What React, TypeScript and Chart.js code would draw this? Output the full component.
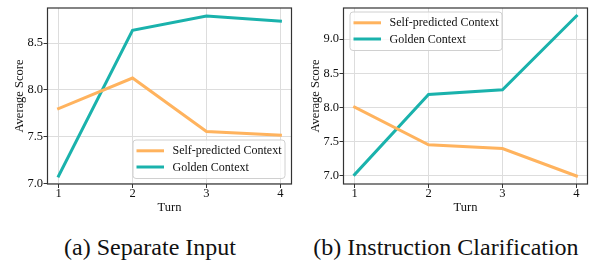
import React, { useEffect, useRef } from 'react';
import { Chart, registerables } from 'chart.js';

Chart.register(...registerables);

const TURNS = [1, 2, 3, 4];
const X_TICKS = [1, 2, 3, 4];
const X_RANGE = [0.85, 4.15];
const SERIES_NAMES = ['Self-predicted Context', 'Golden Context'];
const SERIES_COLORS = ['#ffb35e', '#1ab2ac'];

const A_SELF = [7.8, 8.127, 7.555, 7.517];
const A_GOLDEN = [7.08, 8.637, 8.789, 8.734];
const A_Y_TICKS = [7.0, 7.5, 8.0, 8.5];
const A_Y_RANGE = [6.9945, 8.875];

const B_SELF = [8.005, 7.455, 7.4, 7.0];
const B_GOLDEN = [7.02, 8.19, 8.26, 9.336];
const B_Y_TICKS = [7.0, 7.5, 8.0, 8.5, 9.0];
const B_Y_RANGE = [6.883, 9.453];

const CAPTIONS = ['(a) Separate Input', '(b) Instruction Clarification'];
const X_TITLE = 'Turn';
const Y_TITLE = 'Average Score';

const FONT = '"Liberation Serif", "Times New Roman", Times, serif';
const W = 296;
const H = 216;

const framePlugin = {
  id: 'frameLegend',
  afterDatasetsDraw(chart: any, _args: any, opts: any) {
    const { ctx, chartArea: a } = chart;
    ctx.save();
    ctx.strokeStyle = '#333';
    ctx.lineWidth = 1.2;
    ctx.strokeRect(a.left, a.top, a.right - a.left, a.bottom - a.top);
    const bw = 152;
    const bh = 38.5;
    let bx: number, by: number;
    if (opts.corner === 'br') {
      bx = a.right - 6.5 - bw;
      by = a.bottom - 5.5 - bh;
    } else {
      bx = a.left + 6.5;
      by = a.top + 4;
    }
    const r = 3;
    ctx.beginPath();
    ctx.moveTo(bx + r, by);
    ctx.lineTo(bx + bw - r, by);
    ctx.quadraticCurveTo(bx + bw, by, bx + bw, by + r);
    ctx.lineTo(bx + bw, by + bh - r);
    ctx.quadraticCurveTo(bx + bw, by + bh, bx + bw - r, by + bh);
    ctx.lineTo(bx + r, by + bh);
    ctx.quadraticCurveTo(bx, by + bh, bx, by + bh - r);
    ctx.lineTo(bx, by + r);
    ctx.quadraticCurveTo(bx, by, bx + r, by);
    ctx.closePath();
    ctx.fillStyle = 'rgba(255,255,255,0.8)';
    ctx.fill();
    ctx.strokeStyle = '#d0d0d0';
    ctx.lineWidth = 1;
    ctx.stroke();
    const rows = [10.8, 27];
    chart.data.datasets.forEach((ds: any, i: number) => {
      const yy = by + rows[i];
      ctx.strokeStyle = ds.borderColor;
      ctx.lineWidth = 3;
      ctx.lineCap = 'butt';
      ctx.beginPath();
      ctx.moveTo(bx + 3.5, yy);
      ctx.lineTo(bx + 31, yy);
      ctx.stroke();
      ctx.fillStyle = '#111';
      ctx.font = `12px ${FONT}`;
      ctx.textBaseline = 'middle';
      ctx.textAlign = 'left';
      ctx.fillText(ds.label, bx + 39.5, yy + 0.5);
    });
    ctx.restore();
  },
};

function Panel(props: {
  self: number[];
  golden: number[];
  yTicks: number[];
  yRange: number[];
  corner: string;
  left: number;
}) {
  const ref = useRef<HTMLCanvasElement>(null);
  useEffect(() => {
    if (!ref.current) return;
    const mk = (vals: number[]) => TURNS.map((t, i) => ({ x: t, y: vals[i] }));
    const chart = new Chart(ref.current, {
      type: 'line',
      data: {
        datasets: [
          {
            label: SERIES_NAMES[0],
            data: mk(props.self),
            borderColor: SERIES_COLORS[0],
            backgroundColor: SERIES_COLORS[0],
            borderWidth: 3,
            pointRadius: 0,
            tension: 0,
            borderCapStyle: 'square',
          },
          {
            label: SERIES_NAMES[1],
            data: mk(props.golden),
            borderColor: SERIES_COLORS[1],
            backgroundColor: SERIES_COLORS[1],
            borderWidth: 3,
            pointRadius: 0,
            tension: 0,
            borderCapStyle: 'square',
          },
        ],
      },
      options: {
        animation: false,
        responsive: false,
        maintainAspectRatio: false,
        events: [],
        layout: { padding: { left: 0, right: 4.5, top: 3, bottom: 0 } },
        plugins: {
          legend: { display: false },
          tooltip: { enabled: false },
          frameLegend: { corner: props.corner },
        } as any,
        scales: {
          x: {
            type: 'linear',
            min: X_RANGE[0],
            max: X_RANGE[1],
            afterBuildTicks: (s: any) => {
              s.ticks = X_TICKS.map((v) => ({ value: v }));
            },
            afterFit: (s: any) => {
              s.height = 32;
            },
            ticks: {
              callback: (v: any) => String(v),
              font: { family: FONT, size: 12.5 },
              color: '#111',
              padding: -2,
              maxRotation: 0,
              autoSkip: false,
            },
            grid: { color: '#dddddd', lineWidth: 1, tickLength: 4, tickColor: '#333', drawTicks: true },
            border: { display: false },
            title: {
              display: true,
              text: X_TITLE,
              font: { family: FONT, size: 12.5 },
              color: '#111',
              padding: { top: 0, bottom: 1 },
            },
          },
          y: {
            type: 'linear',
            min: props.yRange[0],
            max: props.yRange[1],
            afterBuildTicks: (s: any) => {
              s.ticks = props.yTicks.map((v) => ({ value: v }));
            },
            afterFit: (s: any) => {
              s.width = 47.5;
            },
            ticks: {
              callback: (v: any) => Number(v).toFixed(1),
              font: { family: FONT, size: 12.5 },
              color: '#111',
              padding: 0.5,
              autoSkip: false,
            },
            grid: { color: '#dddddd', lineWidth: 1, tickLength: 4, tickColor: '#333', drawTicks: true },
            border: { display: false },
            title: {
              display: true,
              text: Y_TITLE,
              font: { family: FONT, size: 12.5 },
              color: '#111',
              padding: { top: 12, bottom: 0 },
            },
          },
        },
      } as any,
      plugins: [framePlugin],
    });
    return () => chart.destroy();
  }, []);
  return (
    <canvas
      ref={ref}
      width={W}
      height={H}
      style={{ position: 'absolute', left: props.left, top: 0, width: W, height: H }}
    />
  );
}

export default function App() {
  const capStyle = (left: number): React.CSSProperties => ({
    position: 'absolute',
    left,
    top: 235,
    width: W,
    textAlign: 'center',
    fontFamily: FONT,
    fontSize: 24,
    lineHeight: '24px',
    color: '#111',
    whiteSpace: 'nowrap',
  });
  return (
    <div style={{ position: 'absolute', left: 0, top: 0, width: 592, height: 264, background: '#fff', overflow: 'hidden' }}>
      <Panel self={A_SELF} golden={A_GOLDEN} yTicks={A_Y_TICKS} yRange={A_Y_RANGE} corner="br" left={0} />
      <Panel self={B_SELF} golden={B_GOLDEN} yTicks={B_Y_TICKS} yRange={B_Y_RANGE} corner="tl" left={296} />
      <div style={capStyle(2)}>{CAPTIONS[0]}</div>
      <div style={capStyle(298)}>{CAPTIONS[1]}</div>
    </div>
  );
}
